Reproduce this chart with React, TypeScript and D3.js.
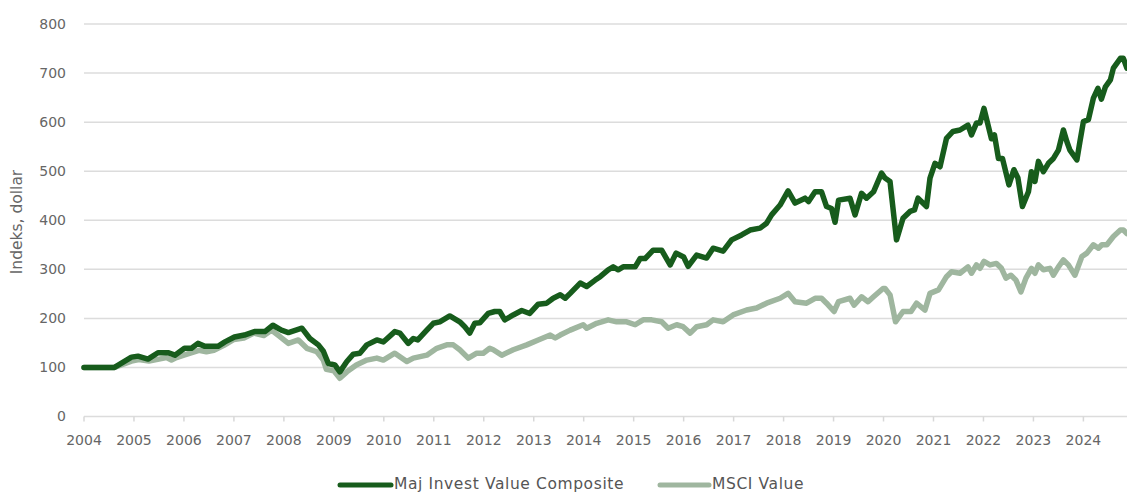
import React from "react";
import * as d3 from "d3";

const yearTicks = [2004, 2005, 2006, 2007, 2008, 2009, 2010, 2011, 2012, 2013, 2014, 2015, 2016, 2017, 2018, 2019, 2020, 2021, 2022, 2023, 2024];
const valueTicks = [0, 100, 200, 300, 400, 500, 600, 700, 800];

const majYears = [
  2004.0, 2004.33, 2004.61, 2004.95, 2005.08, 2005.28, 2005.48, 2005.68, 2005.82, 2006.01, 2006.15, 2006.28, 2006.42, 2006.68, 2006.82,
  2007.01, 2007.21, 2007.41, 2007.62, 2007.78, 2007.95, 2008.09, 2008.36, 2008.52, 2008.69, 2008.79, 2008.89, 2009.02, 2009.12, 2009.26,
  2009.39, 2009.52, 2009.66, 2009.86, 2009.99, 2010.22, 2010.32, 2010.49, 2010.59, 2010.68, 2010.86, 2010.99, 2011.12, 2011.32, 2011.52,
  2011.62, 2011.72, 2011.82, 2011.92, 2012.09, 2012.22, 2012.32, 2012.42, 2012.59, 2012.76, 2012.92, 2013.09, 2013.26, 2013.39, 2013.53,
  2013.63, 2013.73, 2013.93, 2014.06, 2014.23, 2014.33, 2014.49, 2014.59, 2014.69, 2014.79, 2015.03, 2015.13, 2015.23, 2015.39, 2015.56,
  2015.73, 2015.85, 2016.0, 2016.09, 2016.26, 2016.46, 2016.59, 2016.79, 2016.96, 2017.16, 2017.33, 2017.53, 2017.66, 2017.76, 2017.93,
  2018.09, 2018.23, 2018.43, 2018.5, 2018.63, 2018.76, 2018.86, 2018.96, 2019.03, 2019.1, 2019.33, 2019.43, 2019.56, 2019.66, 2019.8,
  2019.96, 2020.03, 2020.13, 2020.26, 2020.39, 2020.53, 2020.62, 2020.69, 2020.86, 2020.93, 2021.03, 2021.13, 2021.26, 2021.39, 2021.53,
  2021.69, 2021.76, 2021.86, 2021.93, 2022.01, 2022.16, 2022.22, 2022.3, 2022.38, 2022.51, 2022.61, 2022.69, 2022.78, 2022.9, 2022.96,
  2023.03, 2023.1, 2023.2, 2023.3, 2023.4, 2023.5, 2023.6, 2023.67, 2023.73, 2023.87, 2023.93, 2024.0, 2024.1, 2024.2, 2024.29,
  2024.36, 2024.44, 2024.54, 2024.6, 2024.74, 2024.8, 2024.87,
];
const majValues = [
  100, 100, 100, 121, 123, 117, 130, 130, 125, 139, 139, 149, 143, 143, 152,
  162, 166, 173, 173, 186, 176, 171, 180, 159, 146, 133, 108, 105, 91, 112,
  127, 129, 146, 156, 152, 173, 170, 149, 159, 156, 176, 190, 193, 205, 193,
  183, 170, 190, 191, 210, 214, 214, 197, 207, 216, 210, 229, 231, 241, 248,
  241, 251, 272, 265, 278, 285, 299, 305, 299, 305, 305, 322, 322, 339, 339,
  309, 333, 325, 306, 329, 323, 343, 337, 360, 370, 380, 384, 394, 411, 431,
  460, 435, 445, 438, 458, 458, 428, 424, 396, 441, 445, 411, 455, 445, 458,
  496, 486, 479, 360, 404, 418, 421, 445, 428, 486, 516, 509, 567, 581, 584,
  594, 574, 598, 598, 628, 566, 574, 526, 526, 472, 503, 486, 428, 458, 499,
  479, 520, 499, 516, 526, 543, 584, 560, 543, 523, 560, 601, 605, 649, 669,
  647, 672, 686, 710, 730, 730, 710,
];

const msciYears = [
  2004.0, 2004.61, 2004.95, 2005.1, 2005.3, 2005.5, 2005.65, 2005.75, 2005.85, 2006.0, 2006.3, 2006.45, 2006.6, 2006.8, 2007.0,
  2007.2, 2007.4, 2007.6, 2007.75, 2007.92, 2008.09, 2008.29, 2008.46, 2008.66, 2008.79, 2008.85, 2009.0, 2009.12, 2009.26, 2009.45,
  2009.66, 2009.86, 2009.99, 2010.22, 2010.46, 2010.59, 2010.86, 2011.06, 2011.26, 2011.39, 2011.52, 2011.69, 2011.86, 2011.99, 2012.12,
  2012.19, 2012.36, 2012.59, 2012.86, 2013.09, 2013.33, 2013.43, 2013.53, 2013.73, 2013.99, 2014.06, 2014.26, 2014.49, 2014.66, 2014.86,
  2015.03, 2015.19, 2015.36, 2015.56, 2015.69, 2015.86, 2015.99, 2016.13, 2016.26, 2016.46, 2016.59, 2016.79, 2016.99, 2017.26, 2017.46,
  2017.66, 2017.93, 2018.09, 2018.23, 2018.46, 2018.63, 2018.76, 2018.86, 2019.01, 2019.1, 2019.33, 2019.41, 2019.56, 2019.69, 2019.8,
  2019.99, 2020.03, 2020.13, 2020.24, 2020.39, 2020.55, 2020.66, 2020.83, 2020.93, 2021.1, 2021.26, 2021.36, 2021.53, 2021.69, 2021.76,
  2021.86, 2021.93, 2022.01, 2022.13, 2022.26, 2022.36, 2022.45, 2022.55, 2022.65, 2022.75, 2022.85, 2022.96, 2023.03, 2023.1, 2023.2,
  2023.33, 2023.4, 2023.5, 2023.6, 2023.7, 2023.83, 2023.97, 2024.07, 2024.2, 2024.3, 2024.37, 2024.47, 2024.6, 2024.74, 2024.8,
  2024.87,
];
const msciValues = [
  100, 100, 113, 116, 113, 117, 120, 115, 120, 125, 135, 132, 135, 145, 157,
  160, 170, 165, 176, 163, 149, 156, 139, 132, 115, 96, 93, 78, 91, 105,
  115, 119, 115, 129, 112, 119, 125, 139, 146, 146, 136, 119, 129, 129, 139,
  136, 125, 136, 146, 156, 166, 160, 166, 176, 187, 180, 190, 197, 193, 193,
  187, 197, 197, 193, 180, 187, 183, 170, 183, 187, 197, 193, 207, 217, 221,
  231, 241, 251, 234, 231, 241, 241, 231, 214, 234, 241, 227, 244, 234, 244,
  261, 261, 248, 193, 214, 214, 231, 217, 251, 258, 285, 295, 292, 305, 292,
  309, 302, 316, 309, 312, 302, 282, 288, 278, 254, 282, 302, 292, 309, 299,
  302, 288, 305, 319, 309, 288, 326, 333, 350, 343, 350, 350, 367, 380, 380,
  373,
];

const seriesNames = ["Maj Invest Value Composite", "MSCI Value"];
const seriesColors = ["#175c1c", "#9fb69f"];

const W = 1127;
const H = 494;
const FONT = "'DejaVu Sans', Verdana, sans-serif";

export default function App() {
  const x = d3.scaleLinear().domain([2004, 2024]).range([84, 1083.4]);
  const y = d3.scaleLinear().domain([0, 800]).range([416.5, 24]);

  const line = d3
    .line<[number, number]>()
    .x((d) => x(d[0]))
    .y((d) => y(d[1]))
    .curve(d3.curveLinear);

  const majData: [number, number][] = majYears.map((t, i) => [t, majValues[i]]);
  const msciData: [number, number][] = msciYears.map((t, i) => [t, msciValues[i]]);

  const legend = [
    { name: seriesNames[0], color: seriesColors[0], x0: 340, x1: 391, tx: 394 },
    { name: seriesNames[1], color: seriesColors[1], x0: 660, x1: 709, tx: 712 },
  ];

  return (
    <svg
      width={W}
      height={H}
      style={{ position: "absolute", left: 0, top: 0, background: "#fff" }}
      fontFamily={FONT}
    >
      <g>
        {valueTicks.map((v) => (
          <line key={v} x1={84} x2={W} y1={y(v)} y2={y(v)} stroke="#dcdcdc" strokeWidth={1.5} />
        ))}
        {yearTicks.map((t) => (
          <line key={t} x1={x(t)} x2={x(t)} y1={y(0)} y2={y(0) + 5} stroke="#d8d8d8" strokeWidth={1.5} />
        ))}
      </g>
      <g fill="#666" fontSize={14}>
        {valueTicks.map((v) => (
          <text key={v} x={66} y={y(v)} dy="0.35em" textAnchor="end">
            {v}
          </text>
        ))}
        {yearTicks.map((t) => (
          <text key={t} x={x(t)} y={440} dy="0.35em" textAnchor="middle">
            {t}
          </text>
        ))}
      </g>
      <text
        transform={`translate(22,222) rotate(-90)`}
        textAnchor="middle"
        fill="#666"
        fontSize={15.5}
      >
        Indeks, dollar
      </text>
      <path
        d={line(msciData) || ""}
        fill="none"
        stroke={seriesColors[1]}
        strokeWidth={5.5}
        strokeLinejoin="round"
        strokeLinecap="round"
      />
      <path
        d={line(majData) || ""}
        fill="none"
        stroke={seriesColors[0]}
        strokeWidth={5.5}
        strokeLinejoin="round"
        strokeLinecap="round"
      />
      <g>
        {legend.map((l) => (
          <g key={l.name}>
            <line x1={l.x0} x2={l.x1} y1={485} y2={485} stroke={l.color} strokeWidth={5} strokeLinecap="round" />
            <text x={l.tx} y={484} dy="0.35em" fill="#555" fontSize={15.5} letterSpacing={0.6}>
              {l.name}
            </text>
          </g>
        ))}
      </g>
    </svg>
  );
}
